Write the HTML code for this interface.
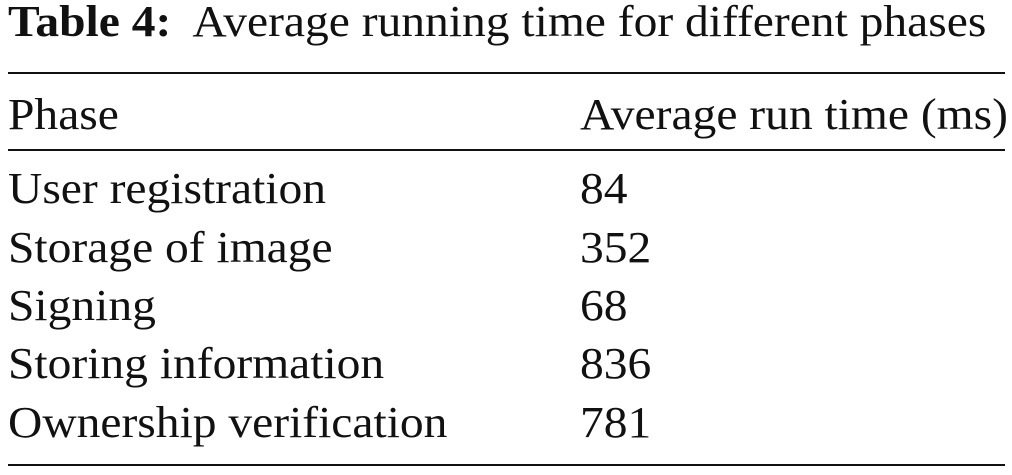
<!DOCTYPE html>
<html><head><meta charset="utf-8"><style>
body{margin:0;width:1012px;height:475px;background:#fff;position:relative;overflow:hidden;font-family:"Liberation Serif",serif;color:#111}
.t{position:absolute;font-size:44px;line-height:1;white-space:nowrap;transform:scaleX(1.08);transform-origin:left top}
.r{position:absolute;left:8px;width:997px;background:#111}
</style></head><body>
<div class="t" style="left:8px;top:0px"><b>Table 4:</b>&nbsp; Average running time for different phases</div>
<div class="r" style="top:72px;height:2px"></div>
<div class="t" style="left:8px;top:93px">Phase</div>
<div class="t" style="left:580px;top:93px">Average run time (ms)</div>
<div class="r" style="top:149px;height:2px"></div>
<div class="t" style="left:8px;top:167px">User registration</div>
<div class="t" style="left:580px;top:167px">84</div>
<div class="t" style="left:8px;top:226px">Storage of image</div>
<div class="t" style="left:580px;top:226px">352</div>
<div class="t" style="left:8px;top:284px">Signing</div>
<div class="t" style="left:580px;top:284px">68</div>
<div class="t" style="left:8px;top:342px">Storing information</div>
<div class="t" style="left:580px;top:342px">836</div>
<div class="t" style="left:8px;top:401px">Ownership verification</div>
<div class="t" style="left:580px;top:401px">781</div>
<div class="r" style="top:464px;height:2px"></div>
</body></html>
